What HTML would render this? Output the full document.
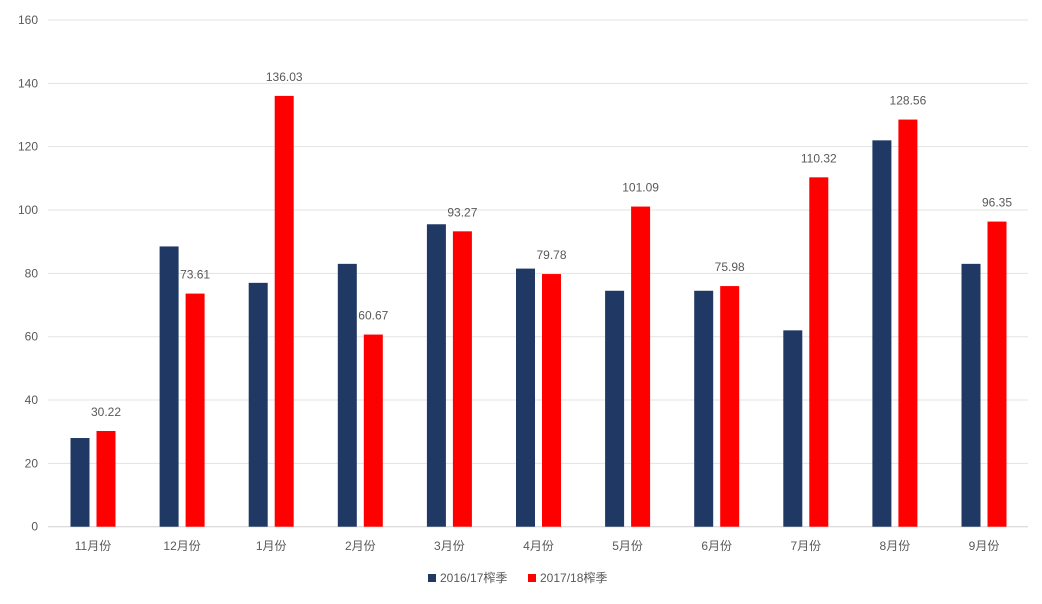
<!DOCTYPE html>
<html><head><meta charset="utf-8"><style>body{margin:0;background:#fff}</style></head>
<body>
<svg width="1042" height="599" xmlns="http://www.w3.org/2000/svg" font-family="Liberation Sans, Noto Sans CJK SC, sans-serif" font-size="12" fill="#595959">
<g id="g"></g>
<script>
const g=document.getElementById('g');
const ns='http://www.w3.org/2000/svg';
function el(t,a,txt){const e=document.createElementNS(ns,t);for(const k in a)e.setAttribute(k,a[k]);if(txt!==undefined)e.textContent=txt;g.appendChild(e);return e;}
const y0=526.7,k=506.7/160;
for(let v=0;v<=160;v+=20){const y=y0-v*k;el('line',{x1:48,x2:1028,y1:y,y2:y,stroke:v?'#e3e3e3':'#d0d0d0','stroke-width':1});el('text',{x:38,y:y+4,'text-anchor':'end'},v);}
const cats=['11月份','12月份','1月份','2月份','3月份','4月份','5月份','6月份','7月份','8月份','9月份'];
const a=[28,88.5,77,83,95.5,81.5,74.5,74.5,62,122,83];
const b=[30.22,73.61,136.03,60.67,93.27,79.78,101.09,75.98,110.32,128.56,96.35];
cats.forEach((c,i)=>{const cx=93+i*89.1;
el('rect',{x:cx-22.5,y:y0-a[i]*k,width:19,height:a[i]*k,fill:'#1f3864'});
el('rect',{x:cx+3.5,y:y0-b[i]*k,width:19,height:b[i]*k,fill:'#ff0000'});
el('text',{x:cx+13,y:y0-b[i]*k-15,'text-anchor':'middle'},b[i].toFixed(2));
el('text',{x:cx,y:550,'text-anchor':'middle'},c);});
el('rect',{x:428,y:574,width:8,height:8,fill:'#1f3864'});
el('text',{x:440,y:582},'2016/17榨季');
el('rect',{x:528,y:574,width:8,height:8,fill:'#ff0000'});
el('text',{x:540,y:582},'2017/18榨季');
</script>
</svg>
</body></html>
